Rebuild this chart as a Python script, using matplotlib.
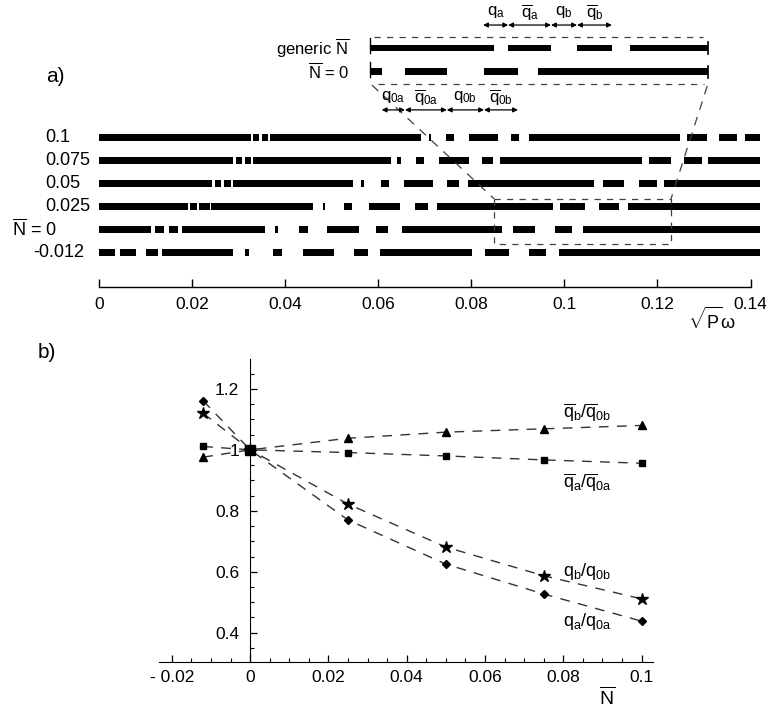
import matplotlib.pyplot as plt
import numpy as np
from matplotlib.ticker import MultipleLocator

plt.rcParams['font.family'] = ['Liberation Sans', 'DejaVu Sans']
plt.rcParams['mathtext.fontset'] = 'custom'
plt.rcParams['mathtext.rm'] = 'Liberation Sans'
plt.rcParams['mathtext.it'] = 'Liberation Sans:italic'
plt.rcParams['mathtext.bf'] = 'Liberation Sans:bold'

NBAR = r'$\overline{\mathrm{N}}$'

# ---- panel a: bar patterns (start, end) in sqrt(P)*omega ----
row_labels = ['0.1', '0.075', '0.05', '0.025', NBAR + ' = 0', '-0.012']
row_01 = [(0.0, 0.0325), (0.0330, 0.0344), (0.0349, 0.0362), (0.0367, 0.0691), (0.0708, 0.0713), (0.0745, 0.0762),
          (0.0794, 0.0856), (0.0885, 0.0903), (0.0923, 0.1249), (0.1264, 0.1307), (0.1332, 0.1370), (0.1389, 0.1420)]
row_0075 = [(0.0, 0.0288), (0.0293, 0.0306), (0.0312, 0.0326), (0.0330, 0.0627), (0.0640, 0.0648), (0.0681, 0.0699),
            (0.0731, 0.0795), (0.0822, 0.0847), (0.0862, 0.1167), (0.1182, 0.1229), (0.1256, 0.1295), (0.1309, 0.1420)]
row_005 = [(0.0, 0.0243), (0.0248, 0.0262), (0.0268, 0.0283), (0.0287, 0.0545), (0.0563, 0.0568), (0.0606, 0.0623),
           (0.0656, 0.0718), (0.0747, 0.0774), (0.0793, 0.1064), (0.1082, 0.1128), (0.1160, 0.1198), (0.1215, 0.1420)]
row_0025 = [(0.0, 0.0190), (0.0194, 0.0210), (0.0215, 0.0237), (0.0240, 0.0460), (0.0480, 0.0485), (0.0527, 0.0543),
            (0.0580, 0.0647), (0.0679, 0.0706), (0.0726, 0.0976), (0.0991, 0.1044), (0.1074, 0.1117), (0.1137, 0.1420)]
row_0 = [(0.0, 0.0112), (0.0119, 0.0139), (0.0150, 0.0169), (0.0178, 0.0355), (0.0378, 0.0385), (0.0429, 0.0449),
         (0.0490, 0.0559), (0.0595, 0.0621), (0.0650, 0.0865), (0.0890, 0.0936), (0.0979, 0.1017), (0.1039, 0.1420)]
row_m0012 = [(0.0, 0.0033), (0.0045, 0.0079), (0.0101, 0.0125), (0.0135, 0.0287), (0.0314, 0.0321), (0.0373, 0.0392),
             (0.0437, 0.0505), (0.0548, 0.0577), (0.0604, 0.0802), (0.0830, 0.0881), (0.0923, 0.0960), (0.0988, 0.1420)]
rows = [row_01, row_0075, row_005, row_0025, row_0, row_m0012]

# magnified inset (generic N and N=0)
inset_generic = [(0.0582, 0.0849), (0.0878, 0.0971), (0.1028, 0.1103), (0.1141, 0.1309)]
inset_zero = [(0.0582, 0.0607), (0.0657, 0.0747), (0.0827, 0.0900), (0.0944, 0.1309)]
arrows_top = [0.0825, 0.0879, 0.0971, 0.1027, 0.1102]
labels_top = [r'$\mathrm{q}_\mathrm{a}$', r'$\overline{\mathrm{q}}_\mathrm{a}$',
              r'$\mathrm{q}_\mathrm{b}$', r'$\overline{\mathrm{q}}_\mathrm{b}$']
arrows_bot = [0.0607, 0.0657, 0.0747, 0.0827, 0.0900]
labels_bot = [r'$\mathrm{q}_\mathrm{0a}$', r'$\overline{\mathrm{q}}_\mathrm{0a}$',
              r'$\mathrm{q}_\mathrm{0b}$', r'$\overline{\mathrm{q}}_\mathrm{0b}$']
xticks_a = [0, 0.02, 0.04, 0.06, 0.08, 0.1, 0.12, 0.14]
xticklabels_a = ['0', '0.02', '0.04', '0.06', '0.08', '0.1', '0.12', '0.14']

# ---- panel b ----
Nbar = [-0.012, 0, 0.025, 0.05, 0.075, 0.1]
qb_bar = [0.976, 1.0, 1.038, 1.058, 1.069, 1.080]
qa_bar = [1.011, 1.0, 0.991, 0.980, 0.967, 0.956]
qb = [1.120, 1.0, 0.822, 0.681, 0.587, 0.511]
qa = [1.161, 1.0, 0.770, 0.625, 0.527, 0.438]
xticks_b = [-0.02, 0, 0.02, 0.04, 0.06, 0.08, 0.1]
xticklabels_b = ['- 0.02', '0', '0.02', '0.04', '0.06', '0.08', '0.1']
yticks_b = [0.4, 0.6, 0.8, 1.0, 1.2]
yticklabels_b = ['0.4', '0.6', '0.8', '1', '1.2']

W, H = 766, 708
fig = plt.figure(figsize=(W / 100, H / 100), dpi=100)

# panel a axes: x=0 at px 99.4, x=0.14 at px 750.5, axis line at px 287
ax = fig.add_axes([99.4 / W, 1 - 287 / H, 651.1 / W, 287 / H])
ax.set_xlim(0, 0.14)
ax.set_ylim(0, 287 / 23)
for s in ['left', 'right', 'top']:
    ax.spines[s].set_visible(False)
ax.spines['bottom'].set_linewidth(1)
ax.set_yticks([])
ax.set_xticks(xticks_a)
ax.set_xticklabels(xticklabels_a)
ax.tick_params(axis='x', direction='in', length=6, width=1, pad=7, labelsize=12.5)

row_y = 6.5 - np.arange(len(rows))
bh = 0.31
for y, segs in zip(row_y, rows):
    ax.broken_barh([(a, b - a) for a, b in segs], (y - bh / 2, bh), facecolors='black', clip_on=False)

label_x = [-0.0117, -0.0117, -0.0117, -0.0117, -0.0188, -0.0143]
for y, lab, lx in zip(row_y, row_labels, label_x):
    ax.text(lx, y, lab, fontsize=13, va='center', ha='left')

# inset
yg, yz = 10.39, 9.35
ax.broken_barh([(a, b - a) for a, b in inset_generic], (yg - 0.15, 0.3), facecolors='black', clip_on=False)
ax.broken_barh([(a, b - a) for a, b in inset_zero], (yz - 0.15, 0.3), facecolors='black', clip_on=False)
for y in [yg, yz]:
    ax.plot([0.1309, 0.1309], [y - 0.25, y + 0.25], color='black', lw=1.2, clip_on=False)
    ax.plot([0.0582, 0.0582], [y - 0.2, y + 0.45], color='black', lw=1.0, clip_on=False)
ax.text(0.0537, yg, 'generic ' + NBAR, fontsize=12, ha='right', va='center')
ax.text(0.0537, yz, NBAR + ' = 0', fontsize=12, ha='right', va='center')

dash = (0, (5, 5))
gray = '0.25'
ax.plot([0.0590, 0.1298], [10.86, 10.86], ls=dash, color=gray, lw=0.9, clip_on=False)
ax.plot([0.0600, 0.1300], [8.82, 8.82], ls=dash, color=gray, lw=0.9, clip_on=False)
# zoom box on the main rows
bx0, bx1, by0, by1 = 0.0849, 0.1229, 1.87, 3.83
ax.plot([bx0, bx1, bx1, bx0, bx0], [by1, by1, by0, by0, by1], ls=dash, color=gray, lw=0.9, clip_on=False)
ax.plot([0.0586, bx0], [8.78, by1], ls=(0, (7, 6)), color=gray, lw=0.9, clip_on=False)
ax.plot([0.1307, bx1], [8.74, by1], ls=(0, (7, 6)), color=gray, lw=0.9, clip_on=False)

arrow_kw = dict(arrowstyle='<|-|>', color='black', lw=0.9, mutation_scale=7, shrinkA=0, shrinkB=0)
for bounds, labs, ya, yl in [(arrows_top, labels_top, 11.39, 11.95), (arrows_bot, labels_bot, 7.70, 8.26)]:
    for a, b, lab in zip(bounds[:-1], bounds[1:], labs):
        ax.annotate('', xy=(a, ya), xytext=(b, ya), arrowprops=arrow_kw, annotation_clip=False)
        ax.text((a + b) / 2, yl, lab, fontsize=12, ha='center', va='center')

fig.text(55 / W, 1 - 77 / H, 'a)', fontsize=15, ha='center', va='center')
fig.text(712 / W, 1 - 320 / H, r'$\sqrt{\mathrm{P}}$ω', fontsize=13, ha='center', va='center')

# panel b axes
ax2 = fig.add_axes([159.3 / W, 1 - 661.7 / H, 493.7 / W, 302.4 / H])
ax2.set_xlim(-0.0232, 0.1029)
ax2.set_ylim(0.305, 1.297)
ax2.spines['right'].set_visible(False)
ax2.spines['top'].set_visible(False)
ax2.spines['left'].set_position(('data', 0))
ax2.set_xticks(xticks_b)
ax2.set_xticklabels(xticklabels_b)
ax2.set_yticks(yticks_b)
ax2.set_yticklabels(yticklabels_b)
ax2.xaxis.set_minor_locator(MultipleLocator(0.005))
ax2.yaxis.set_minor_locator(MultipleLocator(0.05))
ax2.tick_params(which='major', direction='in', length=5, width=0.9, labelsize=12.5)
ax2.tick_params(which='minor', direction='in', length=3, width=0.8)
ax2.tick_params(axis='x', pad=6)
ax2.tick_params(axis='y', pad=8)

line_kw = dict(color='0.2', lw=1.0, ls=(0, (7, 6)), markerfacecolor='black', markeredgecolor='black', clip_on=False)
ax2.plot(Nbar, qb_bar, marker='^', ms=6, **line_kw)
ax2.plot(Nbar, qa_bar, marker='s', ms=5, **line_kw)
ax2.plot(Nbar, qb, marker='*', ms=9, **line_kw)
ax2.plot(Nbar, qa, marker='D', ms=4.5, **line_kw)
ax2.plot([0], [1], marker='s', ms=7, color='black', clip_on=False)

ax2.text(0.0861, 1.125, r'$\overline{\mathrm{q}}_\mathrm{b}/\overline{\mathrm{q}}_\mathrm{0b}$', fontsize=13, ha='center', va='center')
ax2.text(0.0861, 0.895, r'$\overline{\mathrm{q}}_\mathrm{a}/\overline{\mathrm{q}}_\mathrm{0a}$', fontsize=13, ha='center', va='center')
ax2.text(0.0861, 0.600, r'$\mathrm{q}_\mathrm{b}/\mathrm{q}_\mathrm{0b}$', fontsize=13, ha='center', va='center')
ax2.text(0.0861, 0.436, r'$\mathrm{q}_\mathrm{a}/\mathrm{q}_\mathrm{0a}$', fontsize=13, ha='center', va='center')

fig.text(47 / W, 1 - 352 / H, 'b)', fontsize=15, ha='center', va='center')
fig.text(607 / W, 1 - 697 / H, NBAR, fontsize=14, ha='center', va='center')

fig.savefig('out.png', dpi=100)
